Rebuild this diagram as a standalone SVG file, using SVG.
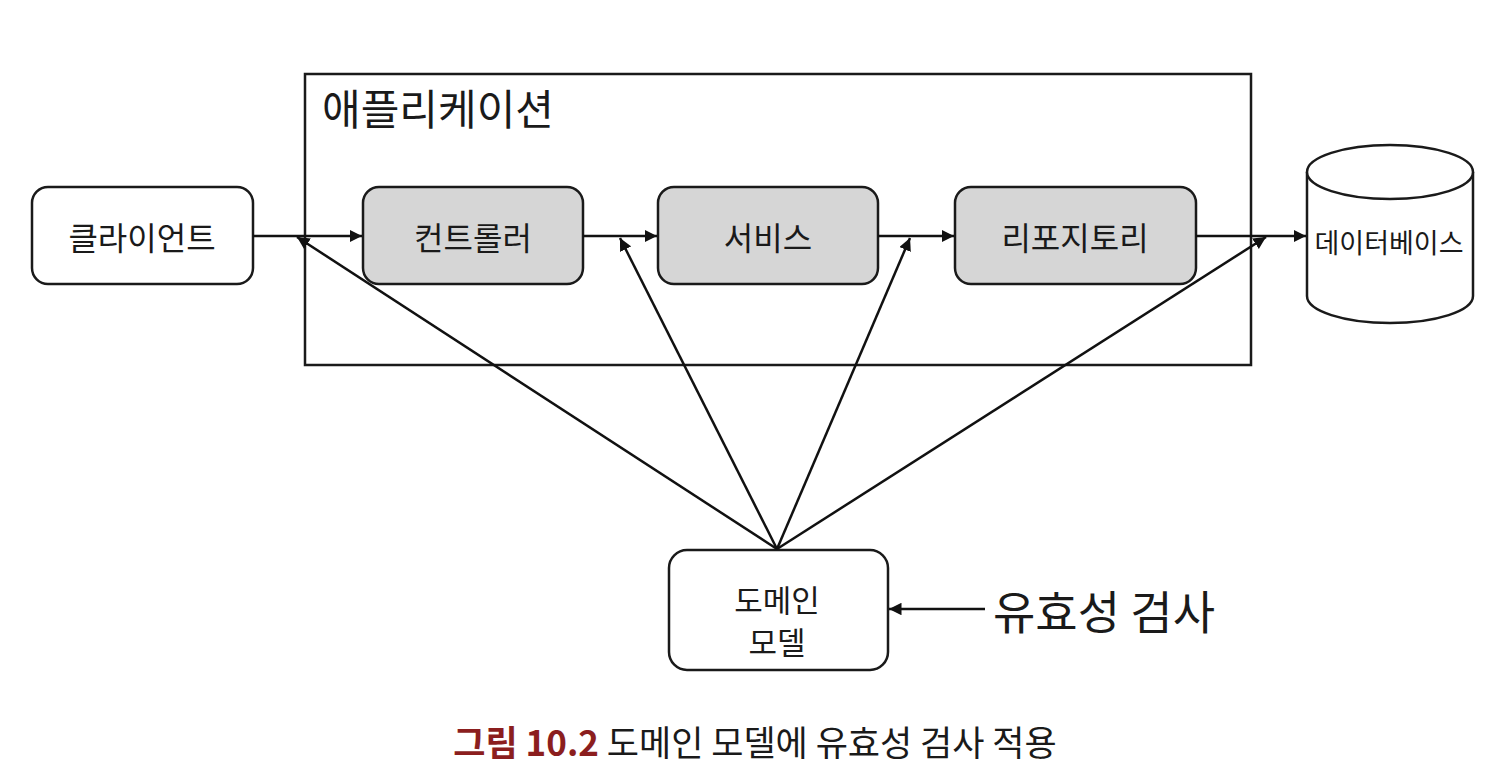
<svg xmlns="http://www.w3.org/2000/svg" width="1506" height="783" viewBox="0 0 1506 783">
<defs>
<style>
.t{font-family:"Noto Sans CJK KR","Noto Sans",sans-serif;fill:#1a1a1a;text-anchor:middle;dominant-baseline:central}
.box{fill:#fff;stroke:#1a1a1a;stroke-width:2.5}
.gbox{fill:#d6d6d6;stroke:#1a1a1a;stroke-width:2.5}
.ln{stroke:#111;stroke-width:2.5;fill:none}
</style>
<marker id="ah" viewBox="0 0 10 10" refX="10" refY="5" markerWidth="5" markerHeight="5" orient="auto" markerUnits="strokeWidth">
<path d="M0,0 L10,5 L0,10 z" fill="#111"/>
</marker>
</defs>
<rect width="1506" height="783" fill="#fff"/>
<g id="application">
<rect x="305" y="74" width="946" height="291" fill="none" stroke="#1a1a1a" stroke-width="2.5"/>
<text class="t" x="438" y="106" font-size="42">애플리케이션</text>
</g>
<g id="client">
<rect class="box" x="32" y="187" width="221" height="97" rx="16"/>
<text class="t" x="142" y="236" font-size="32">클라이언트</text>
</g>
<g id="controller">
<rect class="gbox" x="363" y="187" width="220" height="97" rx="16"/>
<text class="t" x="473" y="236" font-size="32">컨트롤러</text>
</g>
<g id="service">
<rect class="gbox" x="658" y="187" width="220" height="97" rx="16"/>
<text class="t" x="768" y="236" font-size="32">서비스</text>
</g>
<g id="repository">
<rect class="gbox" x="955" y="187" width="241" height="97" rx="16"/>
<text class="t" x="1075" y="236" font-size="32">리포지토리</text>
</g>
<g id="database">
<path d="M1307,172 L1307,296 A83,27 0 0 0 1473,296 L1473,172" class="box"/>
<ellipse cx="1390" cy="172" rx="83" ry="27" class="box"/>
<text class="t" x="1389" y="241" font-size="27">데이터베이스</text>
</g>
<g id="domain-model">
<rect class="box" x="669" y="550" width="219" height="120" rx="18"/>
<text class="t" x="777" y="598" font-size="31">도메인</text>
<text class="t" x="777" y="640" font-size="31">모델</text>
</g>
<g id="validation-label">
<text class="t" x="1104" y="609" font-size="46">유효성 검사</text>
</g>
<g id="connectors">
<line class="ln" x1="253" y1="236" x2="362" y2="236" marker-end="url(#ah)"/>
<line class="ln" x1="583" y1="236" x2="657" y2="236" marker-end="url(#ah)"/>
<line class="ln" x1="878" y1="236" x2="954" y2="236" marker-end="url(#ah)"/>
<line class="ln" x1="1196" y1="236" x2="1306" y2="236" marker-end="url(#ah)"/>
<line class="ln" x1="777" y1="549" x2="297" y2="237" marker-end="url(#ah)"/>
<line class="ln" x1="777" y1="549" x2="620" y2="238" marker-end="url(#ah)"/>
<line class="ln" x1="777" y1="549" x2="910" y2="238" marker-end="url(#ah)"/>
<line class="ln" x1="777" y1="549" x2="1266" y2="237" marker-end="url(#ah)"/>
<line class="ln" x1="985" y1="609" x2="889" y2="609" marker-end="url(#ah)"/>
</g>
<g id="caption">
<text x="755" y="740" font-size="35" text-anchor="middle" dominant-baseline="central" font-family="'Noto Sans CJK KR','Noto Sans',sans-serif"><tspan fill="#8b1e1e" font-weight="bold">그림 10.2</tspan><tspan fill="#1a1a1a"> 도메인 모델에 유효성 검사 적용</tspan></text>
</g>
</svg>
